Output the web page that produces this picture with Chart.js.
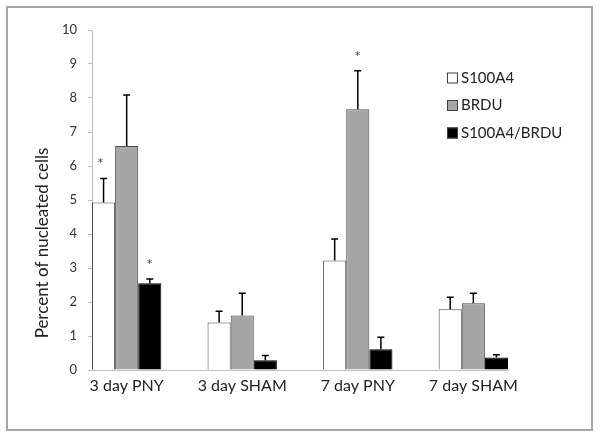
<!DOCTYPE html>
<html>
<head>
<meta charset="utf-8">
<script src="https://cdn.jsdelivr.net/npm/chart.js@4.4.1/dist/chart.umd.min.js"></script>
<style>
body { margin: 0; background: #fff; }
</style>
</head>
<body>
<canvas id="myChart" width="600" height="440"></canvas>
<script>
const groups = ['3 day PNY', '3 day SHAM', '7 day PNY', '7 day SHAM'];
const seriesNames = ['S100A4', 'BRDU', 'S100A4/BRDU'];
const yTitle = 'Percent of nucleated cells';
const s100a4 = [4.93, 1.40, 3.22, 1.79];
const s100a4Sd = [0.70, 0.33, 0.63, 0.35];
const brdu = [6.59, 1.60, 7.67, 1.96];
const brduSd = [1.50, 0.66, 1.13, 0.30];
const both = [2.55, 0.29, 0.61, 0.37];
const bothSd = [0.13, 0.14, 0.35, 0.08];
// significance marks (*)
const s100a4Star = [true, false, false, false];
const brduStar = [false, false, true, false];
const bothStar = [true, false, false, false];

Chart.defaults.font.family = 'Lato';

function points(values) {
    return values.map((v, i) => ({ x: i, y: v }));
}

const extras = {
    id: 'extras',
    beforeDraw(chart) {
        const ctx = chart.ctx;
        ctx.save();
        ctx.fillStyle = '#fff';
        ctx.fillRect(0, 0, chart.width, chart.height);
        ctx.strokeStyle = '#a6a6a6';
        ctx.lineWidth = 2;
        ctx.strokeRect(7, 7, 585, 423);

        // y axis title, Excel puts it a bit low
        ctx.translate(43, 243);
        ctx.rotate(-Math.PI / 2);
        ctx.fillStyle = '#222';
        ctx.font = '17px Lato';
        ctx.textAlign = 'center';
        ctx.textBaseline = 'middle';
        ctx.fillText(yTitle, 0, 0);
        ctx.restore();
    },
    afterDatasetsDraw(chart) {
        const ctx = chart.ctx, y = chart.scales.y;
        ctx.save();
        chart.data.datasets.forEach((ds, d) => {
            chart.getDatasetMeta(d).data.forEach((bar, i) => {
                const top = y.getPixelForValue(ds.data[i].y + ds.sd[i]);
                ctx.strokeStyle = '#000';
                ctx.lineWidth = 1.5;
                ctx.beginPath();
                ctx.moveTo(bar.x, bar.y);
                ctx.lineTo(bar.x, top);
                ctx.moveTo(bar.x - 3.5, top);
                ctx.lineTo(bar.x + 3.5, top);
                ctx.stroke();
                if (ds.star[i]) {
                    ctx.fillStyle = '#444';
                    ctx.font = '15px Lato';
                    ctx.textAlign = 'center';
                    ctx.textBaseline = 'middle';
                    ctx.fillText('*', bar.x - (d === 0 ? 3 : 0), top - 14);
                }
            });
        });

        // legend
        ctx.font = '15px Lato';
        ctx.textAlign = 'left';
        ctx.textBaseline = 'middle';
        chart.data.datasets.forEach((ds, d) => {
            const cy = 78 + d * 27.5;
            ctx.fillStyle = ds.backgroundColor;
            ctx.fillRect(447, cy - 5.5, 11, 11);
            ctx.strokeStyle = '#404040';
            ctx.lineWidth = 1;
            ctx.strokeRect(447.5, cy - 5, 10, 10);
            ctx.fillStyle = '#222';
            ctx.fillText(ds.label, 461, cy);
        });
        ctx.restore();
    }
};

const data = {
    datasets: [{
        label: seriesNames[0],
        backgroundColor: '#ffffff',
        borderColor: '#4a4a4a',
        borderWidth: 1,
        data: points(s100a4),
        sd: s100a4Sd,
        star: s100a4Star
    }, {
        label: seriesNames[1],
        backgroundColor: '#a6a6a6',
        borderColor: '#4a4a4a',
        borderWidth: 1,
        data: points(brdu),
        sd: brduSd,
        star: brduStar
    }, {
        label: seriesNames[2],
        backgroundColor: '#000000',
        borderColor: '#000000',
        borderWidth: 1,
        data: points(both),
        sd: bothSd,
        star: bothStar
    }]
};

const config = {
    type: 'bar',
    data: data,
    options: {
        responsive: false,
        animation: false,
        categoryPercentage: 0.6,
        barPercentage: 1,
        layout: {
            padding: { top: 30, right: 92, left: 0, bottom: 0 }
        },
        scales: {
            x: {
                type: 'linear',
                min: -0.3,
                max: 3.3,
                offset: false,
                afterBuildTicks: s => { s.ticks = groups.map((g, i) => ({ value: i })); },
                afterFit: s => { s.height = 70; },
                grid: {
                    display: false,
                    drawTicks: false,
                    offset: false
                },
                border: {
                    color: '#bfbfbf',
                    width: 1
                },
                ticks: {
                    padding: 6,
                    maxRotation: 0,
                    autoSkip: false,
                    color: '#222',
                    font: { size: 16 },
                    callback: v => groups[v]
                }
            },
            y: {
                min: 0,
                max: 10,
                afterFit: s => { s.width = 92; },
                grid: {
                    drawOnChartArea: false,
                    tickLength: 4,
                    color: '#bfbfbf'
                },
                border: {
                    color: '#bfbfbf',
                    width: 1
                },
                ticks: {
                    stepSize: 1,
                    padding: 11,
                    color: '#333',
                    font: { size: 13 }
                }
            }
        },
        plugins: {
            legend: false,
            tooltip: { enabled: false }
        }
    },
    plugins: [extras]
};

const myChart = new Chart(
    document.getElementById('myChart'),
    config
);
</script>
</body>
</html>
